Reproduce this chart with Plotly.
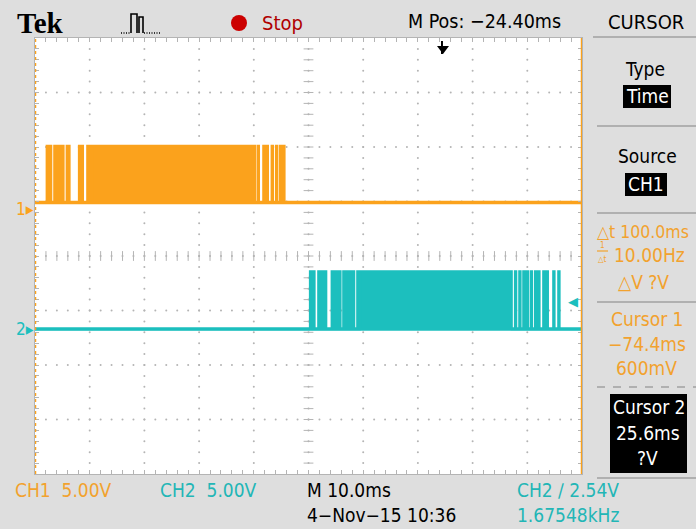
import numpy as np
import plotly.graph_objects as go

W, H = 696, 529

# Time base: trigger at 0 ms, 10 divisions of 10 ms
T_LEFT_MS = -74.4
T_RIGHT_MS = 25.6
TRIGGER_MS = 0.0
VOLTS_PER_DIV = 5.0

# Channel ground markers (in divisions from screen centre) and logic levels
CH1_OFFSET_DIV = 0.86
CH2_OFFSET_DIV = -1.34
CH1_LOW_V, CH1_HIGH_V = 0.6, 5.8
CH2_LOW_V, CH2_HIGH_V = 0.0, 5.3
TRIGGER_LEVEL_V = 2.54

# Isolated pulses (rising-edge times, ms) and the dense burst spans
CH1_PULSES_MS = [-72.26, -71.66, -70.87, -70.32, -69.70, -69.41, -68.60, -68.31,
                 -66.36, -65.86, -64.84, -64.35,
                 -33.69, -32.66, -32.04, -31.13, -30.34, -29.61, -29.01]
CH1_BURST_MS = [-63.98, -34.18]
CH2_PULSES_MS = [-24.13, -23.52, -22.61, -21.99, -21.38, -20.16, -19.68, -19.24,
                 -18.77, -18.04, -17.42, -16.81, -16.27, -15.48,
                 13.35, 14.14, 14.87, 15.49, 16.22, 17.00, 17.61, 18.52, 19.14,
                 20.35, 21.27]
CH2_BURST_MS = [-15.0, 12.75]
PULSE_WIDTH_MS = 0.22

ORANGE = "#FBA21C"
CYAN = "#1CBFBE"
TXT_ORANGE = "#F2A22E"
TXT_CYAN = "#22B6B6"
GRID = "#B4B4B4"
FONT = "Liberation Sans Narrow, Arial Narrow, DejaVu Sans Condensed, Liberation Sans, sans-serif"


def to_div(volts, offset):
    return offset + volts / VOLTS_PER_DIV


def px(x):
    return x / W


def py(y):
    return 1 - y / H


def step_trace(pulses, burst, lo, hi):
    spans = sorted([(p, p + PULSE_WIDTH_MS) for p in pulses] + [tuple(burst)])
    xs, ys = [T_LEFT_MS], [lo]
    for a, b in spans:
        xs += [a, a, b, b]
        ys += [lo, hi, hi, lo]
    xs.append(T_RIGHT_MS)
    ys.append(lo)
    return xs, ys


fig = go.Figure()

# ---- graticule: dotted division lines ----
div_x = np.arange(1, 10) * 10.0 + T_LEFT_MS
div_y = np.arange(-3, 4, 1.0)
sub_x = np.arange(1, 50) * 2.0 + T_LEFT_MS
sub_y = np.round(np.arange(-4 + 0.2, 4, 0.2), 2)
gx, gy = [], []
for xv in div_x:
    gx += list(np.full(sub_y.size, xv)); gy += list(sub_y)
for yv in div_y:
    gx += list(sub_x); gy += list(np.full(sub_x.size, yv))
fig.add_trace(go.Scatter(x=gx, y=gy, mode="markers", hoverinfo="skip",
                         marker=dict(size=2, color=GRID, line_width=0)))
# centre cross-hair tick marks
fig.add_trace(go.Scatter(x=sub_x, y=np.zeros(sub_x.size), mode="markers", hoverinfo="skip",
                         marker=dict(symbol="line-ns", size=7, line=dict(width=1, color=GRID))))
fig.add_trace(go.Scatter(x=np.full(sub_y.size, -24.4), y=sub_y, mode="markers", hoverinfo="skip",
                         marker=dict(symbol="line-ew", size=7, line=dict(width=1, color=GRID))))

# ---- channel traces ----
for pulses, burst, lo_v, hi_v, off, col in [
    (CH1_PULSES_MS, CH1_BURST_MS, CH1_LOW_V, CH1_HIGH_V, CH1_OFFSET_DIV, ORANGE),
    (CH2_PULSES_MS, CH2_BURST_MS, CH2_LOW_V, CH2_HIGH_V, CH2_OFFSET_DIV, CYAN),
]:
    lo, hi = to_div(lo_v, off), to_div(hi_v, off)
    fig.add_trace(go.Scatter(x=[burst[0], burst[0], burst[1], burst[1], burst[0]],
                             y=[lo, hi, hi, lo, lo], fill="toself", fillcolor=col,
                             mode="lines", line=dict(width=0, color=col), hoverinfo="skip"))
    xs, ys = step_trace(pulses, burst, lo, hi)
    fig.add_trace(go.Scatter(x=xs, y=ys, mode="lines", hoverinfo="skip",
                             line=dict(color=col, width=2.2)))
    # thicker baseline
    fig.add_trace(go.Scatter(x=[T_LEFT_MS, T_RIGHT_MS], y=[lo, lo], mode="lines",
                             hoverinfo="skip", line=dict(color=col, width=3.5)))

shapes = []
annotations = []


def txt(x, y, s, color="black", size=19, xanchor="center", family=FONT, **kw):
    annotations.append(dict(x=px(x), y=py(y), xref="paper", yref="paper", text=s,
                            showarrow=False, xanchor=xanchor, yanchor="middle",
                            font=dict(color=color, size=size, family=family), **kw))


def hline(x0, x1, y, color="#B0B0B0", width=2, dash="solid"):
    shapes.append(dict(type="line", xref="paper", yref="paper", x0=px(x0), x1=px(x1),
                       y0=py(y), y1=py(y), line=dict(color=color, width=width, dash=dash)))


def box(x0, y0, x1, y1, color="black"):
    shapes.append(dict(type="rect", xref="paper", yref="paper", x0=px(x0), x1=px(x1),
                       y0=py(y1), y1=py(y0), fillcolor=color, line_width=0, layer="below"))


# cursors at the screen edges
shapes.append(dict(type="line", xref="x", yref="paper", x0=T_LEFT_MS, x1=T_LEFT_MS,
                   y0=py(474), y1=py(38), line=dict(color=ORANGE, width=2.5, dash="3px,3px")))
shapes.append(dict(type="line", xref="x", yref="paper", x0=T_RIGHT_MS, x1=T_RIGHT_MS,
                   y0=py(474), y1=py(38), line=dict(color=ORANGE, width=2.5)))

# trigger position marker
shapes.append(dict(type="line", xref="x", yref="paper", x0=TRIGGER_MS, x1=TRIGGER_MS,
                   y0=py(41), y1=py(54), line=dict(color="black", width=2)))
shapes.append(dict(type="path", xref="paper", yref="paper",
                   path=f"M {px(437)} {py(46)} L {px(449)} {py(46)} L {px(443)} {py(54)} Z",
                   fillcolor="black", line_width=0))

# header
txt(40, 23, "<b>Tek</b>", size=29, family="Liberation Serif, Times New Roman, serif")
shapes.append(dict(type="path", xref="paper", yref="paper",
                   path=(f"M {px(131)} {py(33)} L {px(131)} {py(14)} L {px(137)} {py(14)} "
                         f"L {px(137)} {py(33)} M {px(139)} {py(33)} L {px(139)} {py(17)} "
                         f"L {px(143)} {py(17)} L {px(143)} {py(33)}"),
                   line=dict(color="black", width=1.6)))
shapes.append(dict(type="line", xref="paper", yref="paper", x0=px(121), x1=px(130),
                   y0=py(33), y1=py(33), line=dict(color="black", width=1.6, dash="1px,1.5px")))
shapes.append(dict(type="line", xref="paper", yref="paper", x0=px(144), x1=px(160),
                   y0=py(33), y1=py(33), line=dict(color="black", width=1.6, dash="1px,1.5px")))
shapes.append(dict(type="circle", xref="paper", yref="paper", x0=px(231), x1=px(247),
                   y0=py(31), y1=py(15), fillcolor="#CC0000", line_width=0))
txt(260, 23, "Stop", color="#B00000", size=20, xanchor="left")
txt(406, 22, "M Pos: \u221224.40ms", size=19.5, xanchor="left")
txt(646, 22, "CURSOR", size=20)

# side panel
hline(593, 696, 37)
txt(645, 69, "Type", size=19)
box(623, 85, 671, 108)
txt(647, 96, "Time", color="white", size=19)
hline(597, 696, 126)
txt(647, 156, "Source", size=19)
box(625, 173, 667, 196)
txt(646, 184, "CH1", color="white", size=19)
hline(597, 696, 213)
txt(595, 232, "\u25b3t 100.0ms", color=TXT_ORANGE, size=17.5, xanchor="left")
txt(602, 245, "1", color=TXT_ORANGE, size=8)
hline(597, 608, 251, color=TXT_ORANGE, width=1.2)
txt(602, 259, "\u25b3t", color=TXT_ORANGE, size=8)
txt(612, 255, "10.00Hz", color=TXT_ORANGE, size=19, xanchor="left")
txt(643, 282, "\u25b3V ?V", color=TXT_ORANGE, size=19)
hline(597, 696, 302)
txt(647, 319, "Cursor 1", color=TXT_ORANGE, size=19)
txt(647, 344, "\u221274.4ms", color=TXT_ORANGE, size=19)
txt(646, 368, "600mV", color=TXT_ORANGE, size=19)
hline(597, 696, 387, dash="8px,8px")
box(610, 394, 687, 473)
txt(649, 407, "Cursor 2", color="white", size=19)
txt(648, 433, "25.6ms", color="white", size=19)
txt(647, 458, "?V", color="white", size=19)
hline(597, 696, 478)

# channel ground markers and trigger level
for lab, off, col in [("1", CH1_OFFSET_DIV, ORANGE), ("2", CH2_OFFSET_DIV, CYAN)]:
    annotations.append(dict(x=px(14), y=off, xref="paper", yref="y", text=lab + "\u25b8",
                            showarrow=False, xanchor="left", yanchor="middle",
                            font=dict(color=col, size=17, family=FONT)))
annotations.append(dict(x=px(566), y=to_div(TRIGGER_LEVEL_V, CH2_OFFSET_DIV), xref="paper",
                        yref="y", text="\u25c0", showarrow=False, xanchor="left",
                        yanchor="middle", font=dict(color=CYAN, size=13, family="DejaVu Sans")))

# bottom status line
txt(13, 490, "CH1  5.00V", color=TXT_ORANGE, size=19, xanchor="left")
txt(158, 490, "CH2  5.00V", color=TXT_CYAN, size=19, xanchor="left")
txt(305, 490, "M 10.0ms", size=19, xanchor="left")
txt(515, 490, "CH2 \u2215 2.54V", color=TXT_CYAN, size=19, xanchor="left")
txt(305, 515, "4\u2212Nov\u221215 10:36", size=19, xanchor="left")
txt(515, 515, "1.67548kHz", color=TXT_CYAN, size=19, xanchor="left")

axis_common = dict(showgrid=False, zeroline=False, showticklabels=False,
                   showline=True, linecolor=GRID, linewidth=1, mirror="ticks",
                   ticks="inside", ticklen=4, tickcolor=GRID, tickwidth=1)

fig.update_layout(
    width=W, height=H, margin=dict(l=0, r=0, t=0, b=0),
    paper_bgcolor="#DEDEDE", plot_bgcolor="white", showlegend=False,
    xaxis=dict(range=[T_LEFT_MS, T_RIGHT_MS], domain=[px(35), px(582)],
               tick0=T_LEFT_MS, dtick=2.0, **axis_common),
    yaxis=dict(range=[-4, 4], domain=[py(474), py(38)], tick0=-4, dtick=0.2,
               **axis_common),
    shapes=shapes, annotations=annotations,
)

fig.write_html("out.html")
